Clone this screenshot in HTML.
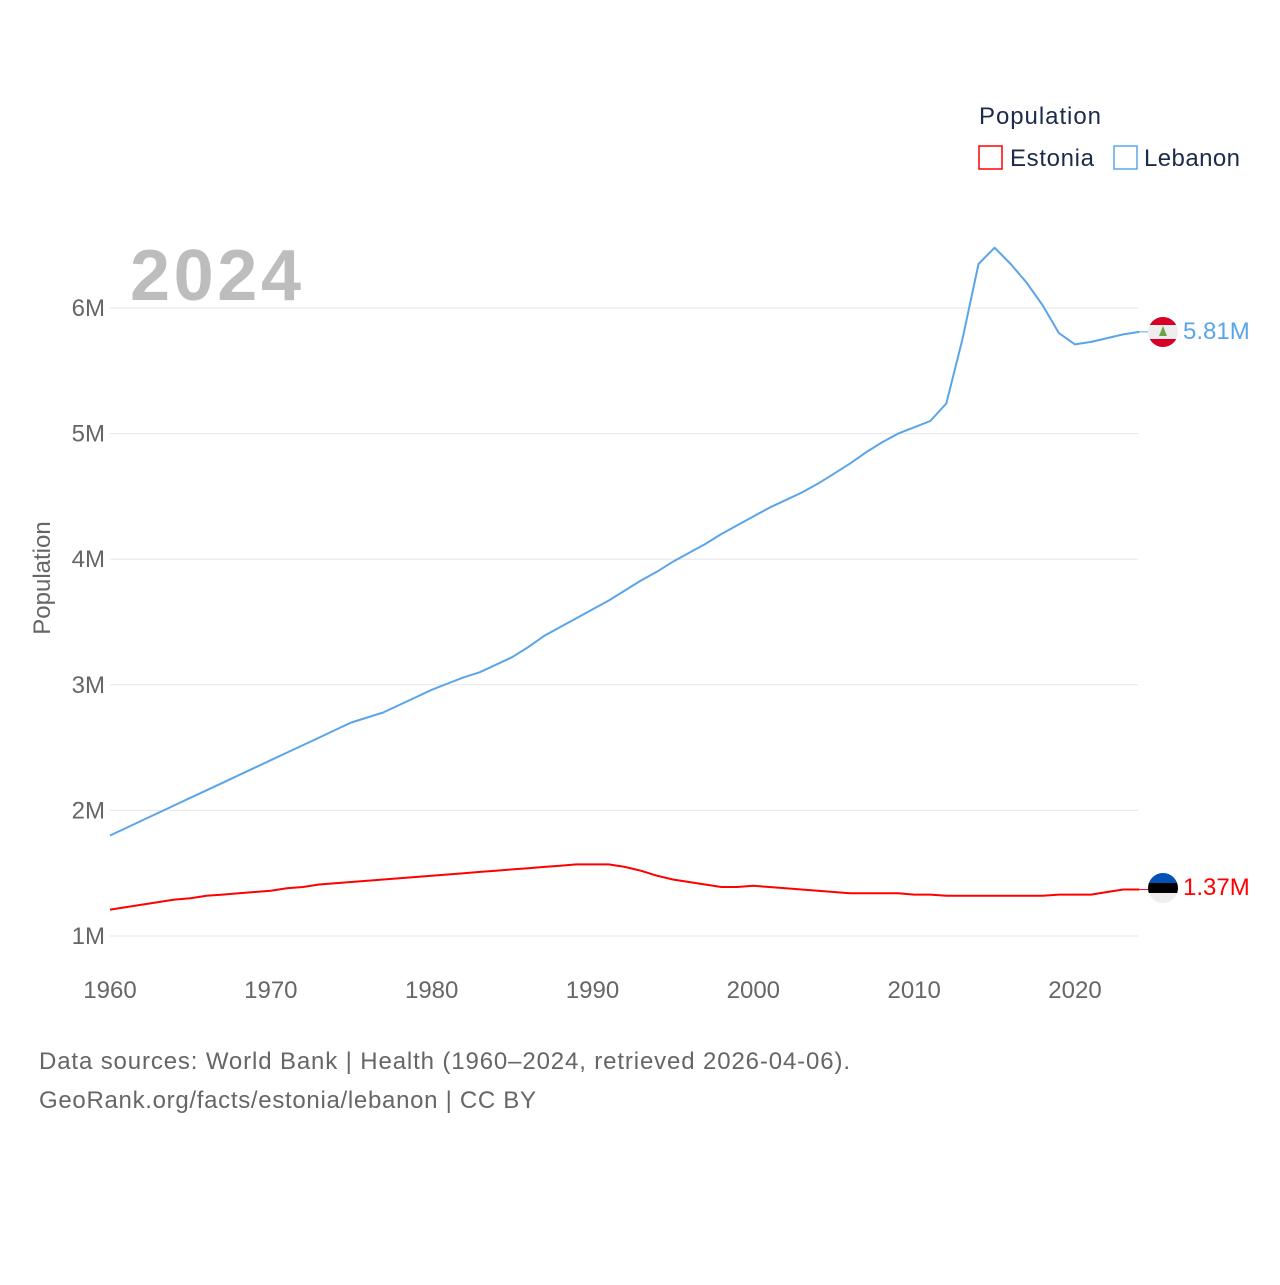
<!DOCTYPE html>
<html><head><meta charset="utf-8"><style>
body{margin:0;background:#fff;width:1280px;height:1280px;overflow:hidden;font-family:"Liberation Sans",sans-serif}
</style></head><body>
<svg id="chart" width="1280" height="1280" xmlns="http://www.w3.org/2000/svg" font-family="Liberation Sans, sans-serif">
<text x="979" y="124" font-size="24" fill="#1c2b4a" textLength="122">Population</text>
<g><rect x="979" y="146" width="23" height="23" fill="none" stroke="#f00" stroke-width="1.5"/><text x="1010" y="166" font-size="24" fill="#1c2b4a" textLength="84">Estonia</text></g>
<g><rect x="1114" y="146" width="23" height="23" fill="none" stroke="#5aa5ea" stroke-width="1.5"/><text x="1144" y="166" font-size="24" fill="#1c2b4a" textLength="96">Lebanon</text></g>
<text x="130" y="300" font-size="72" font-weight="bold" fill="#bdbdbd" textLength="171">2024</text>
<text transform="translate(50,578) rotate(-90)" text-anchor="middle" font-size="24" fill="#666">Population</text>
<g id="grid"></g><g id="xt"></g><g id="lines"></g>
<g>
<clipPath id="c1"><circle cx="1163" cy="332" r="15"/></clipPath>
<g clip-path="url(#c1)"><rect x="1148" y="317" width="30" height="30" fill="#eee"/><rect x="1148" y="317" width="30" height="8" fill="#d80027"/><rect x="1148" y="339" width="30" height="8" fill="#d80027"/><polygon points="1163,326 1159,336 1167,336" fill="#6da544"/></g>
<text x="1183" y="339" font-size="24" fill="#5aa5ea">5.81M</text></g>
<g>
<clipPath id="c2"><circle cx="1163" cy="888" r="15"/></clipPath>
<g clip-path="url(#c2)"><rect x="1148" y="873" width="30" height="10" fill="#0052b4"/><rect x="1148" y="883" width="30" height="10" fill="#000"/><rect x="1148" y="893" width="30" height="10" fill="#eee"/></g>
<text x="1183" y="895" font-size="24" fill="#f00">1.37M</text></g>
<text x="39" y="1069" font-size="24" fill="#666" textLength="811">Data sources: World Bank | Health (1960–2024, retrieved 2026-04-06).</text>
<text x="39" y="1108" font-size="24" fill="#666" textLength="497">GeoRank.org/facts/estonia/lebanon | CC BY</text>
</svg>
<script>
const years=[];for(let y=1960;y<=2024;y++)years.push(y);
const lebanon=[1.80,1.86,1.92,1.98,2.04,2.10,2.16,2.22,2.28,2.34,2.40,2.46,2.52,2.58,2.64,2.70,2.74,2.78,2.84,2.90,2.96,3.01,3.06,3.10,3.16,3.22,3.30,3.39,3.46,3.53,3.60,3.67,3.75,3.83,3.90,3.98,4.05,4.12,4.20,4.27,4.34,4.41,4.47,4.53,4.60,4.68,4.76,4.85,4.93,5.00,5.05,5.10,5.24,5.75,6.35,6.48,6.35,6.20,6.02,5.80,5.71,5.73,5.76,5.79,5.81];
const estonia=[1.21,1.23,1.25,1.27,1.29,1.30,1.32,1.33,1.34,1.35,1.36,1.38,1.39,1.41,1.42,1.43,1.44,1.45,1.46,1.47,1.48,1.49,1.50,1.51,1.52,1.53,1.54,1.55,1.56,1.57,1.57,1.57,1.55,1.52,1.48,1.45,1.43,1.41,1.39,1.39,1.40,1.39,1.38,1.37,1.36,1.35,1.34,1.34,1.34,1.34,1.33,1.33,1.32,1.32,1.32,1.32,1.32,1.32,1.32,1.33,1.33,1.33,1.35,1.37,1.37];
const yTicks=[1,2,3,4,5,6];const xTicks=[1960,1970,1980,1990,2000,2010,2020];
const X=y=>110+(y-1960)*965/60, Y=v=>936-(v-1)*125.6;
const NS="http://www.w3.org/2000/svg";
function mk(t,a,p,txt){const e=document.createElementNS(NS,t);for(const k in a)e.setAttribute(k,a[k]);if(txt)e.textContent=txt;document.getElementById(p).appendChild(e);return e;}
yTicks.forEach(v=>{const l=mk('line',{x1:110,x2:1138,y1:Y(v),y2:Y(v),stroke:'#e6e6e6','stroke-width':1},'grid');


const t=mk('text',{x:105,y:Y(v)+8,'text-anchor':'end','font-size':24,fill:'#666'},'grid',v+'M');

});
xTicks.forEach(v=>{const t=mk('text',{x:X(v),y:998,'text-anchor':'middle','font-size':24,fill:'#666'},'xt',String(v));

});
function line(d,c,n){const p=mk('path',{d:d.map((v,i)=>(i?'L':'M')+X(years[i]).toFixed(1)+','+Y(v).toFixed(1)).join(''),fill:'none',stroke:c,'stroke-width':2,'stroke-linejoin':'round'},'lines');


const e=mk('line',{x1:X(2024),x2:1148,y1:Y(d[d.length-1]),y2:Y(d[d.length-1]),stroke:c,'stroke-width':1},'lines');

}
line(lebanon,'#5aa5ea','lebanon-line');line(estonia,'#f00','estonia-line');
</script>
</body></html>
